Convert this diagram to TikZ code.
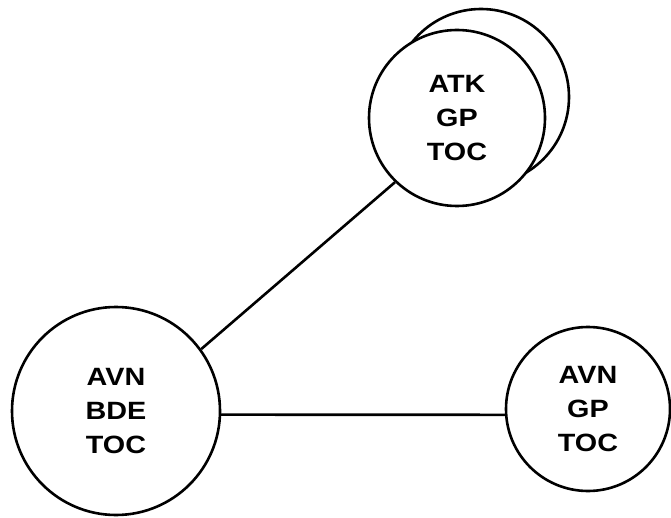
\documentclass[tikz,border=0pt]{standalone}
\usepackage{fontspec}
\setmainfont{Liberation Sans}[FakeStretch=1.15]
\begin{document}
\begin{tikzpicture}[x=1pt, y=-1pt,
		toc/.style={circle, draw=black, line width=2.6pt, fill=white, align=center, inner sep=0pt,
			font=\bfseries\fontsize{25}{34}\selectfont}]
			\useasboundingbox (0,0) rectangle (671,518);

			% Stacked circle behind the attack group
			\node[toc, minimum size=176pt] (atkback) at (481,97) {};

			% Command posts
			\node[toc, minimum size=176pt] (atk) at (457,118) {ATK\\GP\\TOC};
			\node[toc, minimum size=208pt] (bde) at (116,411) {AVN\\BDE\\TOC};
			\node[toc, minimum size=164pt] (gp) at (588,409) {AVN\\GP\\TOC};

			% Links
			\draw[line width=2.6pt] (bde.36) -- (atk.226);
			\draw[line width=2.6pt] (bde.-2) -- (gp.184);
		\end{tikzpicture}
\end{document}
